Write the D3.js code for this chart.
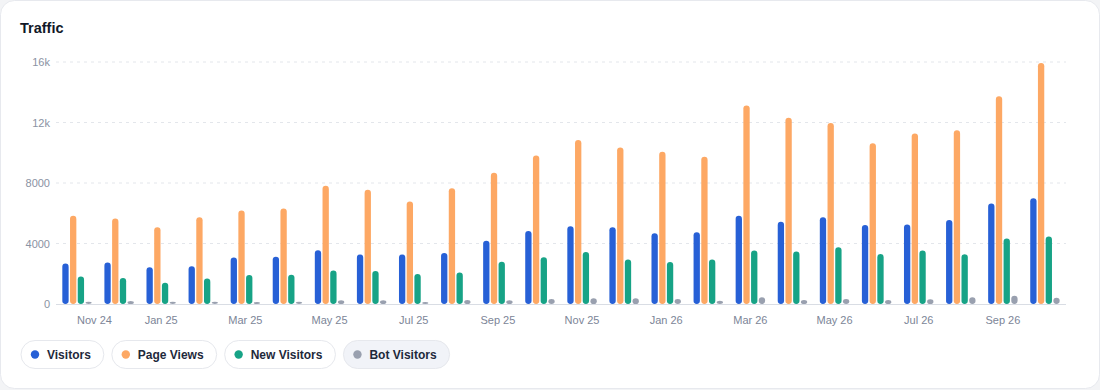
<!DOCTYPE html>
<html>
<head>
<meta charset="utf-8">
<script src="https://cdn.jsdelivr.net/npm/d3@7"></script>
<style>
  html, body { margin: 0; padding: 0; background: #f3f4f6; }
  svg { display: block; font-family: "Liberation Sans", Arial, sans-serif; }
</style>
</head>
<body>
<svg id="chart" width="1100" height="390"></svg>
<script>
// DATA (monthly)
const months = ["Nov 24", "Dec 24", "Jan 25", "Feb 25", "Mar 25", "Apr 25", "May 25", "Jun 25",
  "Jul 25", "Aug 25", "Sep 25", "Oct 25", "Nov 25", "Dec 25", "Jan 26", "Feb 26",
  "Mar 26", "Apr 26", "May 26", "Jun 26", "Jul 26", "Aug 26", "Sep 26", "Oct 26"];

const visitors = [2670, 2740, 2430, 2490, 3070, 3130, 3550, 3270, 3270, 3380, 4190, 4830,
  5140, 5080, 4680, 4750, 5830, 5430, 5740, 5230, 5250, 5560, 6640, 7000];
const pageViews = [5830, 5650, 5080, 5740, 6180, 6310, 7810, 7550, 6780, 7660, 8670, 9820,
  10840, 10350, 10060, 9730, 13130, 12320, 11960, 10620, 11280, 11480, 13730, 15930];
const newVisitors = [1810, 1720, 1410, 1680, 1920, 1940, 2210, 2190, 1990, 2080, 2800, 3090,
  3440, 2940, 2780, 2940, 3530, 3470, 3750, 3310, 3530, 3290, 4330, 4460];
const botVisitors = [150, 200, 150, 150, 130, 150, 240, 240, 130, 270, 240, 330,
  380, 380, 330, 220, 440, 270, 330, 270, 310, 440, 550, 420];

const seriesNames = ["Visitors", "Page Views", "New Visitors", "Bot Visitors"];
const seriesColors = ["#2760d6", "#fda864", "#17a386", "#99a0af"];
const yTicks = [0, 4000, 8000, 12000, 16000];
const xTickLabels = ["Nov 24", "Jan 25", "Mar 25", "May 25", "Jul 25", "Sep 25",
  "Nov 25", "Jan 26", "Mar 26", "May 26", "Jul 26", "Sep 26"];

// LAYOUT
const width = 1100, height = 390;
const plotLeft = 56, plotRight = 1066, plotTop = 62, plotBottom = 304;

const svg = d3.select("#chart");

// card
svg.append("rect")
  .attr("x", 0.5).attr("y", 0.5)
  .attr("width", width - 1).attr("height", height - 2)
  .attr("rx", 14)
  .attr("fill", "#ffffff")
  .attr("stroke", "#e7e9ee");

svg.append("text")
  .attr("x", 20).attr("y", 32.5)
  .attr("fill", "#111827")
  .style("font-size", "14.5px")
  .style("font-weight", "700")
  .text("Traffic");

// SCALES
const x0 = d3.scaleBand()
  .domain(months)
  .range([plotLeft, plotRight])
  .paddingInner(0.3)
  .paddingOuter(0.15);

const x1 = d3.scaleBand()
  .domain(seriesNames)
  .range([0, x0.bandwidth()])
  .paddingInner(0.18);

const y = d3.scaleLinear()
  .domain([0, 16000])
  .range([plotBottom, plotTop]);

// grid
svg.append("g")
  .selectAll("line")
  .data(yTicks.filter(d => d > 0))
  .join("line")
  .attr("x1", plotLeft).attr("x2", plotRight)
  .attr("y1", d => y(d)).attr("y2", d => y(d))
  .attr("stroke", "#e3e6eb")
  .attr("stroke-dasharray", "3,4");

// y axis
let y_axis = d3.axisLeft(y)
  .tickValues(yTicks)
  .tickSize(0)
  .tickPadding(6)
  .tickFormat(d => d >= 10000 ? (d / 1000) + "k" : d);

svg.append("g")
  .attr("class", "y axis")
  .attr("transform", "translate(" + plotLeft + ",0)")
  .call(y_axis)
  .call(g => g.select(".domain").remove())
  .call(g => g.selectAll("text")
    .attr("fill", "#8a92a3")
    .style("font-size", "11px")
    .style("font-family", "Liberation Sans, Arial, sans-serif"));

// baseline
svg.append("line")
  .attr("x1", plotLeft).attr("x2", plotRight)
  .attr("y1", y(0) + 0.5).attr("y2", y(0) + 0.5)
  .attr("stroke", "#d9dde4");

// x axis
let x_axis = d3.axisBottom(x0)
  .tickValues(xTickLabels)
  .tickSize(0)
  .tickPadding(12);

svg.append("g")
  .attr("class", "x axis")
  .attr("transform", "translate(0," + plotBottom + ")")
  .call(x_axis)
  .call(g => g.select(".domain").remove())
  .call(g => g.selectAll("text")
    .attr("fill", "#7c8597")
    .style("font-size", "11px")
    .style("font-family", "Liberation Sans, Arial, sans-serif"))
  .call(g => g.select(".tick text").attr("text-anchor", "start"));

// BARS
const allSeries = [visitors, pageViews, newVisitors, botVisitors];
const rows = months.map((m, i) => ({
  month: m,
  values: seriesNames.map((s, k) => ({ key: s, value: allSeries[k][i], color: seriesColors[k] }))
}));

svg.append("g")
  .selectAll("g")
  .data(rows)
  .join("g")
  .attr("transform", d => "translate(" + x0(d.month) + ",0)")
  .selectAll("rect")
  .data(d => d.values)
  .join("rect")
  .attr("x", d => x1(d.key))
  .attr("width", x1.bandwidth())
  .attr("y", d => y(d.value))
  .attr("height", d => y(0) - y(d.value))
  .attr("rx", x1.bandwidth() / 2)
  .attr("fill", d => d.color);

// LEGEND
const legend = svg.append("g").attr("transform", "translate(21,340.5)");
let lx = 0;
seriesNames.forEach((name, k) => {
  const g = legend.append("g").attr("transform", "translate(" + lx + ",0)");
  const pill = g.append("rect")
    .attr("y", 0).attr("height", 28)
    .attr("rx", 14)
    .attr("fill", k === 3 ? "#f1f3f8" : "#ffffff")
    .attr("stroke", "#e6e8ed");
  g.append("circle")
    .attr("cx", 14).attr("cy", 14).attr("r", 4.2)
    .attr("fill", seriesColors[k]);
  const t = g.append("text")
    .attr("x", 26).attr("y", 18.2)
    .attr("fill", "#1e293b")
    .style("font-size", "12px")
    .style("font-weight", "700")
    .text(name);
  const w = 26 + t.node().getComputedTextLength() + 13;
  pill.attr("width", w);
  lx += w + 8;
});
</script>
</body>
</html>
